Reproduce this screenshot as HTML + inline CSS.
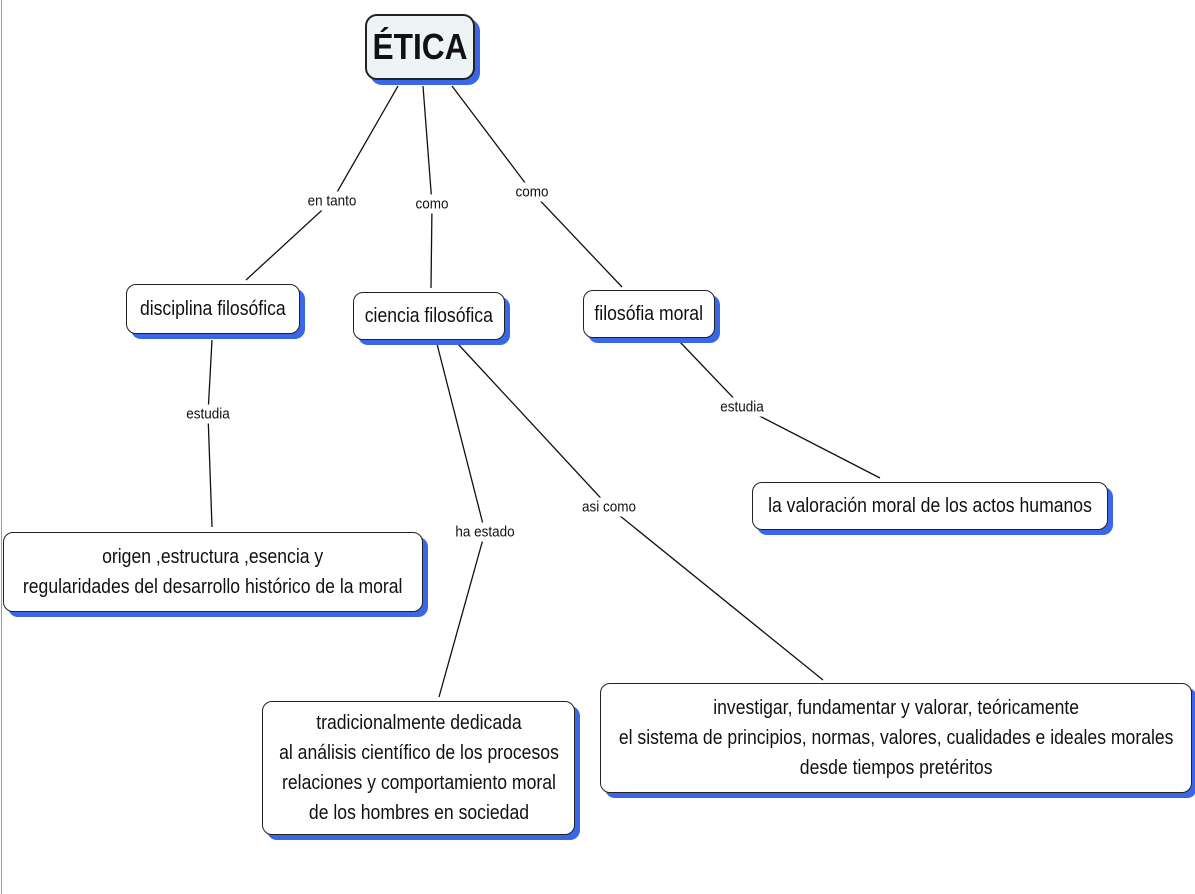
<!DOCTYPE html>
<html><head><meta charset="utf-8"><style>
body{margin:0;width:1195px;height:894px;background:#fff;position:relative;overflow:hidden;font-family:"Liberation Sans",sans-serif}
.n{position:absolute;box-sizing:border-box;border:1.5px solid #222;border-radius:10px;background:#fff;box-shadow:5px 5px 0 #3a66e8;display:flex;align-items:center;justify-content:center;text-align:center;color:#111}
.n span{display:inline-block;transform:scaleX(.88);white-space:nowrap;font-size:20px;line-height:25px}
.l{position:absolute;background:#fff;font-size:15px;color:#111;transform:translate(-50%,-50%) scaleX(.9);white-space:nowrap;padding:1px 2px}
</style></head><body>
<div style="position:absolute;left:1px;top:0;width:1px;height:894px;background:#999"></div>
<svg width="1195" height="894" style="position:absolute;left:0;top:0" stroke="#111" stroke-width="1.3" fill="none">
<polyline points="398,86 332,201 246,280"/>
<polyline points="423,86 432,204 431,288"/>
<polyline points="452,86 532,192 622,287"/>
<polyline points="212,340 208,414 212,527"/>
<polyline points="437,344 485,532 439,697"/>
<polyline points="458,344 609,507 823,680"/>
<polyline points="680,342 742,407 880,478"/>
</svg>
<div class="l" style="left:332px;top:201px">en tanto</div>
<div class="l" style="left:432px;top:204px">como</div>
<div class="l" style="left:532px;top:192px">como</div>
<div class="l" style="left:208px;top:414px">estudia</div>
<div class="l" style="left:485px;top:532px">ha estado</div>
<div class="l" style="left:609px;top:507px">asi como</div>
<div class="l" style="left:742px;top:407px">estudia</div>
<div class="n" style="left:365px;top:14px;width:110px;height:66px;background:#eef4f6;border-width:2.5px;border-radius:12px"><span style="font-size:36px;font-weight:bold;line-height:40px">ÉTICA</span></div>
<div class="n" style="left:126px;top:284px;width:174px;height:50px"><span>disciplina filosófica</span></div>
<div class="n" style="left:353px;top:292px;width:152px;height:48px"><span>ciencia filosófica</span></div>
<div class="n" style="left:583px;top:290px;width:132px;height:48px"><span>filosófia moral</span></div>
<div class="n" style="left:752px;top:482px;width:356px;height:48px"><span>la valoración moral de los actos humanos</span></div>
<div class="n" style="left:3px;top:532px;width:420px;height:80px"><span style="line-height:30px">origen ,estructura ,esencia y<br>regularidades del desarrollo histórico de la moral</span></div>
<div class="n" style="left:262px;top:701px;width:313px;height:134px"><span style="line-height:30px">tradicionalmente dedicada<br>al análisis científico de los procesos<br>relaciones y comportamiento moral<br>de los hombres en sociedad</span></div>
<div class="n" style="left:600px;top:683px;width:592px;height:110px"><span style="line-height:30px">investigar, fundamentar y valorar, teóricamente<br>el sistema de principios, normas, valores, cualidades e ideales morales<br>desde tiempos pretéritos</span></div>
</body></html>
